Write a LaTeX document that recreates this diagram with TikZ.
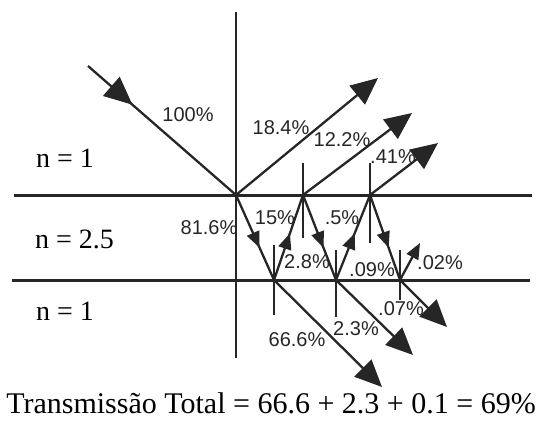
\documentclass[tikz,border=0pt]{standalone}
\usepackage{fontspec}
\setmainfont{Liberation Serif}
\newfontfamily\lblfont{Liberation Sans}
\usetikzlibrary{arrows.meta,decorations.markings}
\definecolor{ink}{HTML}{262626}
\tikzset{
  ray/.style={draw=ink, color=ink, line width=2.3pt},
  bigtip/.style={-{Triangle[length=27pt,width=24pt]}},
  smalltip/.style={-{Triangle[length=16pt,width=13pt]}},
  midtip/.style={postaction={decorate},
    decoration={markings, mark=at position #1 with {\arrow{Triangle[length=16pt,width=13pt]}}}},
  bigmidtip/.style={postaction={decorate},
    decoration={markings, mark=at position #1 with {\arrow{Triangle[length=28pt,width=25pt]}}}},
  normalline/.style={draw=ink, line width=1.5pt},
  iface/.style={draw=ink, line width=3pt},
  pct/.style={font=\lblfont\fontsize{20}{22}\selectfont, text=ink, inner sep=0pt},
  idx/.style={font=\fontsize{28}{30}\selectfont, text=black, inner sep=0pt},
}
\begin{document}
\begin{tikzpicture}[x=1pt,y=-1pt]
  \useasboundingbox (0,0) rectangle (538,421);
  % interfaces
  \coordinate (L1a) at (14,195);  \coordinate (L1b) at (532,195);
  \coordinate (L2a) at (12,280);  \coordinate (L2b) at (530,280);
  \draw[iface] (L1a) -- (L1b);
  \draw[iface] (L2a) -- (L2b);
  % points
  \coordinate (S)  at (88,66);
  \coordinate (P0) at (236,195);
  \coordinate (B1) at (274,280);
  \coordinate (T2) at (303,195);
  \coordinate (B2) at (336,280);
  \coordinate (T3) at (370,195);
  \coordinate (B3) at (400,280);
  \coordinate (R1) at (378,78);
  \coordinate (R2) at (412,113);
  \coordinate (R3) at (438,143);
  \coordinate (X1) at (382,387);
  \coordinate (X2) at (413,355);
  \coordinate (X3) at (447,327);
  \coordinate (U3) at (420,243);
  % normals
  \coordinate (N0a) at (236,12);  \coordinate (N0b) at (236,358);
  \coordinate (N2a) at (303,163); \coordinate (N2b) at (303,238);
  \coordinate (N3a) at (370,163); \coordinate (N3b) at (370,243);
  \coordinate (M1a) at (274,245); \coordinate (M1b) at (274,315);
  \coordinate (M2a) at (336,250); \coordinate (M2b) at (336,317);
  \coordinate (M3a) at (400,250); \coordinate (M3b) at (400,300);
  \draw[normalline] (N0a) -- (N0b);
  \draw[normalline] (N2a) -- (N2b);
  \draw[normalline] (N3a) -- (N3b);
  \draw[normalline] (M1a) -- (M1b);
  \draw[normalline] (M2a) -- (M2b);
  \draw[normalline] (M3a) -- (M3b);
  % incident
  \draw[ray, bigmidtip=0.3] (S) -- (P0);
  % reflected out
  \draw[ray, bigtip] (P0) -- (R1);
  \draw[ray, bigtip] (T2) -- (R2);
  \draw[ray, bigtip] (T3) -- (R3);
  % inside slab
  \draw[ray, midtip=0.62] (P0) -- (B1);
  \draw[ray, midtip=0.55] (B1) -- (T2);
  \draw[ray, midtip=0.62] (T2) -- (B2);
  \draw[ray, midtip=0.55] (B2) -- (T3);
  \draw[ray, midtip=0.62] (T3) -- (B3);
  \draw[ray, smalltip] (B3) -- (U3);
  % transmitted
  \draw[ray, bigtip] (B1) -- (X1);
  \draw[ray, bigtip] (B2) -- (X2);
  \draw[ray, bigtip] (B3) -- (X3);
  % percentage labels
  \node[pct] (l100) at (188,115) {100\%};
  \node[pct] (l184) at (281,128) {18.4\%};
  \node[pct] (l122) at (342,140) {12.2\%};
  \node[pct] (l041) at (393,157) {.41\%};
  \node[pct] (l816) at (209,228) {81.6\%};
  \node[pct] (l15)  at (275,218) {15\%};
  \node[pct] (l05)  at (342,218) {.5\%};
  \node[pct] (l28)  at (307,262) {2.8\%};
  \node[pct] (l009) at (372,270) {.09\%};
  \node[pct] (l002) at (440,263) {.02\%};
  \node[pct] (l007) at (401,309) {.07\%};
  \node[pct] (l666) at (297,340) {66.6\%};
  \node[pct] (l23)  at (356,329) {2.3\%};
  % index labels
  \node[idx, anchor=base west] (n1) at (36,167) {n = 1};
  \node[idx, anchor=base west] (n2) at (35,248) {n = 2.5};
  \node[idx, anchor=base west] (n3) at (36,320) {n = 1};
  % total
  \node[idx, anchor=base, font=\fontsize{30}{32}\selectfont] (tot) at (271,413) {Transmissão Total = 66.6 + 2.3 + 0.1 = 69\%};
\end{tikzpicture}
\end{document}
